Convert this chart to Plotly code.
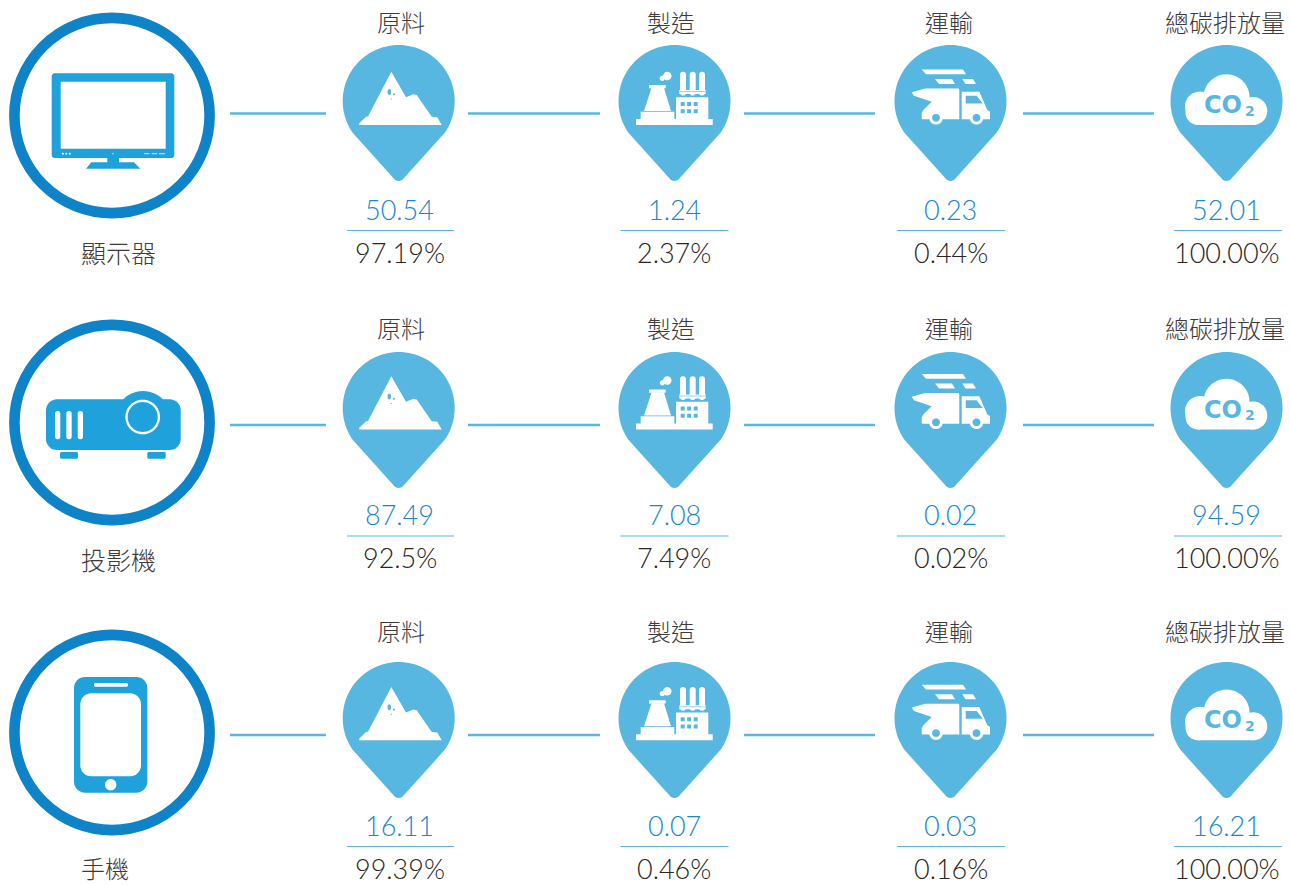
import math
import plotly.graph_objects as go

# ---- data ----
devices = ["顯示器", "投影機", "手機"]
stages = ["原料", "製造", "運輸", "總碳排放量"]
monitor_values = ["50.54", "1.24", "0.23", "52.01"]
monitor_shares = ["97.19%", "2.37%", "0.44%", "100.00%"]
projector_values = ["87.49", "7.08", "0.02", "94.59"]
projector_shares = ["92.5%", "7.49%", "0.02%", "100.00%"]
phone_values = ["16.11", "0.07", "0.03", "16.21"]
phone_shares = ["99.39%", "0.46%", "0.16%", "100.00%"]

values = [monitor_values, projector_values, phone_values]
shares = [monitor_shares, projector_shares, phone_shares]

# ---- layout helpers ----
W, H = 1290, 885
RING = "#0F83C7"
ICON = "#1FA2DC"
PIN = "#58B7E1"
VAL = "#1A87CB"
DARK = "#3E3A39"
SHARE = "#2A2422"
CJK = "Noto Sans CJK TC"
LATIN = "Lato"

shapes = []
annotations = []


def poly(pts, fill, dx=0, dy=0):
    d = "M" + "L".join(f"{x + dx:.2f},{y + dy:.2f}" for x, y in pts) + "Z"
    shapes.append(dict(type="path", path=d, fillcolor=fill, line=dict(width=0),
                       xref="x", yref="y", layer="above"))


def arc(cx, cy, r, a0, a1, n=40):
    return [(cx + r * math.cos(math.radians(a0 + (a1 - a0) * i / n)),
             cy + r * math.sin(math.radians(a0 + (a1 - a0) * i / n))) for i in range(n + 1)]


def disc(cx, cy, r, fill, dx=0, dy=0, rr=None):
    pts = arc(cx, cy, r, 0, 360, 48 if r > 4 else 20)
    if rr is not None:
        pts = [(x, cy + (y - cy) * rr / r) for x, y in pts]
    poly(pts, fill, dx, dy)


def rrect(x0, y0, x1, y1, r, fill, dx=0, dy=0):
    pts = (arc(x1 - r, y0 + r, r, -90, 0, 8) + arc(x1 - r, y1 - r, r, 0, 90, 8)
           + arc(x0 + r, y1 - r, r, 90, 180, 8) + arc(x0 + r, y0 + r, r, 180, 270, 8))
    poly(pts, fill, dx, dy)


def line(x0, y0, x1, y1, color, width):
    shapes.append(dict(type="line", x0=x0, y0=y0, x1=x1, y1=y1, xref="x", yref="y",
                       line=dict(color=color, width=width), layer="above"))


def text(x, y, s, size, color, family=LATIN, weight=300):
    annotations.append(dict(x=x, y=y, text=s, xref="x", yref="y", showarrow=False,
                            xanchor="center", yanchor="middle", borderpad=0,
                            font=dict(family=family, size=size, color=color, weight=weight)))


def pin(cx, cy):
    r, tip = 56, 80
    a = 35
    corner = 6
    pts = arc(cx, cy, r, 180 - a, 360 + a, 72)
    tipc = (cx, cy + tip - corner)
    pts += [(tipc[0] + corner * math.cos(math.radians(t)), tipc[1] + corner * math.sin(math.radians(t)))
            for t in range(45, 136, 15)]
    poly(pts, PIN)


def mountain(dx, dy):
    poly([(359.3, 125), (359.3, 123.3), (366, 116.7), (368, 116.5), (391.3, 71.7), (406, 97.3), (413.3, 94.3),
          (416.7, 95), (431.7, 116.7), (437.3, 117.3), (441.7, 125)], "#FFFFFF", dx, dy)
    disc(389.3, 92, 1.8, PIN, dx, dy, rr=3)
    disc(394, 94.3, 1, PIN, dx, dy)
    disc(391.3, 99, 0.6, PIN, dx, dy)


def factory(dx, dy):
    W_ = "#FFFFFF"
    rrect(636, 119, 712.7, 125, 0.01, W_, dx, dy)
    rrect(640.7, 111.7, 674.3, 119.5, 0.01, W_, dx, dy)
    poly([(651.5, 88), (664, 88), (671, 111), (644, 111)], W_, dx, dy)
    rrect(649, 85, 665.7, 88.3, 0.01, W_, dx, dy)
    disc(667.3, 76, 4.2, W_, dx, dy)
    disc(662.3, 78.3, 2.6, W_, dx, dy)
    for x0, x1 in [(680, 686), (689.7, 695.7), (699, 705)]:
        rrect(x0, 71.7, x1, 95.5, 2.8, W_, dx, dy)
    rrect(679.3, 90, 705.7, 94, 0.01, W_, dx, dy)
    line(679.3 + dx, 91.5 + dy, 705.7 + dx, 91.5 + dy, PIN, 0.6)
    rrect(676, 97.3, 708.3, 119.5, 0.01, W_, dx, dy)
    for y0 in (102, 109.3):
        for x0 in (680.7, 687.1, 693.7):
            rrect(x0, y0, x0 + 4, y0 + 4, 0.01, PIN, dx, dy)


def truck(dx, dy):
    W_ = "#FFFFFF"
    poly([(921.7, 69.5), (963, 69.5), (966, 74.3), (926, 74.3)], W_, dx, dy)
    poly([(935, 79), (952, 79), (955, 84), (939, 84)], W_, dx, dy)
    poly([(962.3, 79), (973, 79), (976, 84), (965.5, 84)], W_, dx, dy)
    poly([(925, 88.5), (958.5, 88.5), (959.3, 89.5), (959.3, 119.3), (922.5, 119.3), (921.7, 118.5),
          (921.7, 113), (923.3, 110), (931.7, 101.7), (914, 95.7), (911.7, 92.3)], W_, dx, dy)
    poly([(961.7, 91.7), (979.3, 91.7), (987.3, 110), (990, 111.5), (990, 119.3), (961.7, 119.3)], W_, dx, dy)
    poly([(965.7, 95.7), (976.7, 95.7), (982.7, 103.5), (965.7, 103.5)], PIN, dx, dy)
    for cx in (936, 976.5):
        disc(cx, 117.8, 6.8, W_, dx, dy)
        disc(cx, 117.8, 3.9, PIN, dx, dy)


def cloud(dx, dy):
    W_ = "#FFFFFF"
    disc(1198, 112.5, 12.5, W_, dx, dy)
    disc(1200, 106.5, 15, W_, dx, dy)
    disc(1226.5, 97.3, 23, W_, dx, dy)
    disc(1253.3, 111, 14, W_, dx, dy)
    rrect(1198, 100, 1253.3, 125, 0.01, W_, dx, dy)
    text(1223 + dx, 105 + dy, "CO", 24, PIN, "DejaVu Sans", 700)
    text(1250 + dx, 110.5 + dy, "2", 14, PIN, "DejaVu Sans", 700)


def monitor_icon():
    W_ = "#FFFFFF"
    rrect(51.7, 73.3, 174.3, 158, 3, ICON)
    rrect(60.7, 81.7, 165.7, 148.7, 0.01, W_)
    rrect(107.3, 157, 119, 163, 0.01, ICON)
    poly([(91.3, 162.3), (134, 162.3), (140.3, 168.7), (86, 168.7)], ICON)
    for x in (62.9, 66.3, 69.8):
        disc(x, 153.7, 1, W_)
    disc(113, 153.7, 0.6, W_)
    for x0, x1 in [(144, 149.3), (151.7, 157.3), (159, 165)]:
        line(x0, 153.7, x1, 153.7, W_, 0.8)


def projector_icon():
    W_ = "#FFFFFF"
    rrect(46, 399.3, 180.7, 450, 11, ICON)
    disc(143, 419, 28, ICON)
    disc(142.7, 417, 17.3, W_)
    disc(142.7, 417, 15, ICON)
    for x0, x1 in [(55, 60.3), (66.3, 71.7), (77.7, 83)]:
        rrect(x0, 411, x1, 439.3, 2.5, W_)
    rrect(60, 452, 78, 458.7, 1.5, ICON)
    rrect(147.3, 452, 165.7, 458.7, 1.5, ICON)


def phone_icon():
    W_ = "#FFFFFF"
    rrect(74, 677, 147.3, 792.7, 11, ICON)
    rrect(80.3, 693.3, 141, 776.3, 11, W_)
    rrect(94, 683, 128, 686.7, 1.5, W_)
    disc(110.7, 784.7, 5.7, W_)


# ---- per-row layout ----
ring_y = [115.5, 422.5, 732.5]
pin_off = [0, 307, 617]
icon_off = [0, 304.5, 615.3]
connector_y = [113.5, 425, 735]
header_y = [21, 327, 630]
val_y = [209.5, 514.5, 825.5]
rule_y = [230.5, 536, 846.5]
share_y = [252.5, 557.5, 868.5]
device_pos = [(118, 252), (118, 559), (105, 867)]
device_size = [25, 25, 24]

pin_x = [398.7, 674.5, 950.5, 1226.5]
header_x = [401, 671, 949, 1224.5]
val_x = [399.5, 674.5, 950.5, 1226]
share_x = [399.5, 674, 951, 1227]
rule_x = [(347, 454), (620.5, 728.5), (897, 1005), (1174, 1282)]
conn_x = [(230, 326), (468, 600), (744, 875), (1023, 1154)]
icon_funcs = [mountain, factory, truck, cloud]

for r in range(3):
    shapes.append(dict(type="circle", x0=112 - 97.6, x1=112 + 97.6, y0=ring_y[r] - 97.6, y1=ring_y[r] + 97.6,
                       xref="x", yref="y", line=dict(color=RING, width=10.6), layer="above"))
    text(device_pos[r][0], device_pos[r][1], devices[r], device_size[r], DARK, CJK, 300)
    for c in range(4):
        pin(pin_x[c], 101 + pin_off[r])
        icon_funcs[c](0, icon_off[r])
        line(conn_x[c][0], connector_y[r], conn_x[c][1], connector_y[r], PIN, 2.6)
        line(rule_x[c][0], rule_y[r], rule_x[c][1], rule_y[r], PIN, 1.2)
        text(header_x[c], header_y[r], stages[c], 24, DARK, CJK, 300)
        text(val_x[c], val_y[r], values[r][c], 27, VAL)
        text(share_x[c], share_y[r], shares[r][c], 27, SHARE)

monitor_icon()
projector_icon()
phone_icon()

fig = go.Figure()
fig.update_layout(
    width=W, height=H, margin=dict(l=0, r=0, t=0, b=0),
    paper_bgcolor="#FFFFFF", plot_bgcolor="#FFFFFF",
    xaxis=dict(range=[0, W], visible=False, fixedrange=True),
    yaxis=dict(range=[H, 0], visible=False, fixedrange=True),
    shapes=shapes, annotations=annotations, showlegend=False,
)
fig.write_html("out.html", config={"displayModeBar": False},
               post_script="document.body.style.margin='0';document.body.style.overflow='hidden';")
